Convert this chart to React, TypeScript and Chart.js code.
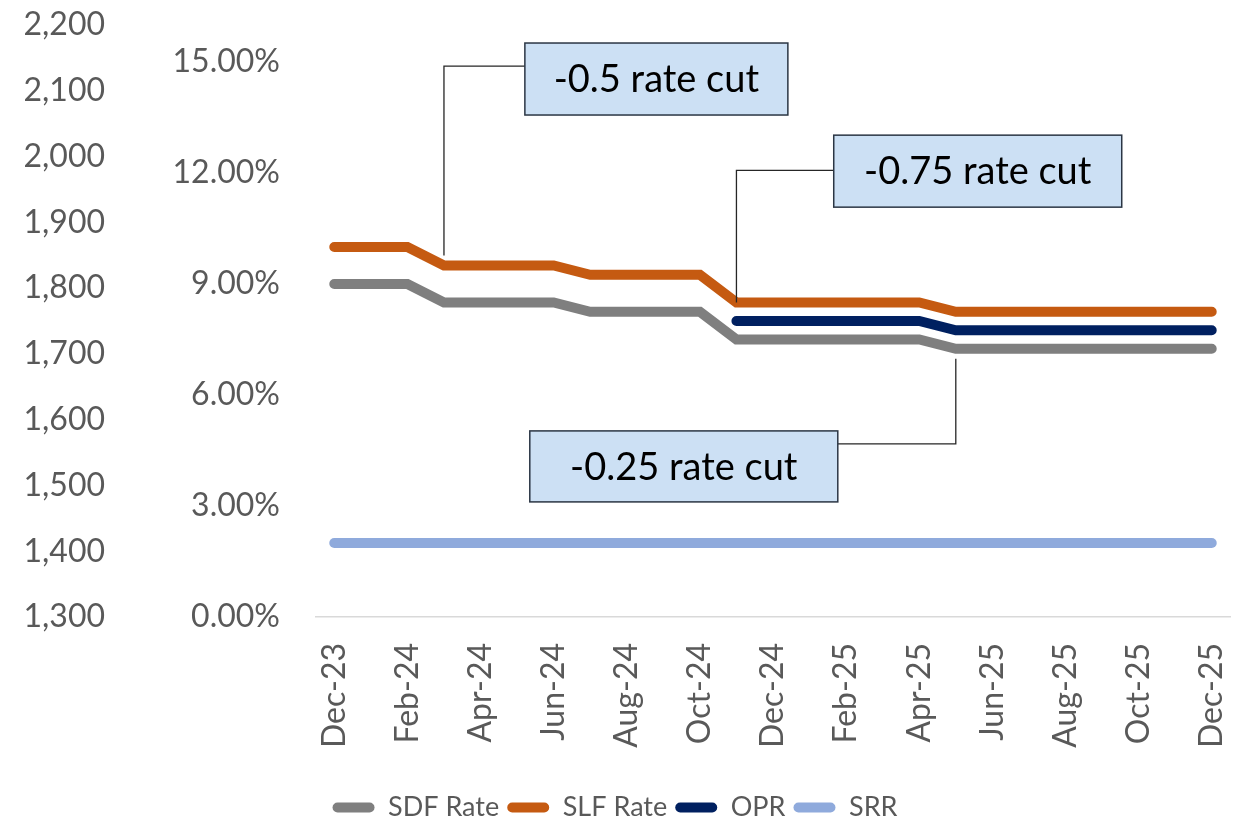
import React, { useEffect, useRef } from 'react';
import { Chart, registerables } from 'chart.js';

Chart.register(...registerables);

// ---------------- data ----------------
const months = [
  'Dec-23', 'Jan-24', 'Feb-24', 'Mar-24', 'Apr-24', 'May-24', 'Jun-24', 'Jul-24', 'Aug-24',
  'Sep-24', 'Oct-24', 'Nov-24', 'Dec-24', 'Jan-25', 'Feb-25', 'Mar-25', 'Apr-25', 'May-25',
  'Jun-25', 'Jul-25', 'Aug-25', 'Sep-25', 'Oct-25', 'Nov-25', 'Dec-25',
];

const sdfRate = [
  9, 9, 9, 8.5, 8.5, 8.5, 8.5, 8.25, 8.25, 8.25, 8.25, 7.5, 7.5, 7.5, 7.5, 7.5, 7.5,
  7.25, 7.25, 7.25, 7.25, 7.25, 7.25, 7.25, 7.25,
];
const slfRate = [
  10, 10, 10, 9.5, 9.5, 9.5, 9.5, 9.25, 9.25, 9.25, 9.25, 8.5, 8.5, 8.5, 8.5, 8.5, 8.5,
  8.25, 8.25, 8.25, 8.25, 8.25, 8.25, 8.25, 8.25,
];
const oprRate = [
  null, null, null, null, null, null, null, null, null, null, null, 8, 8, 8, 8, 8, 8,
  7.75, 7.75, 7.75, 7.75, 7.75, 7.75, 7.75, 7.75,
];
const srrRate = [
  2, 2, 2, 2, 2, 2, 2, 2, 2, 2, 2, 2, 2, 2, 2, 2, 2, 2, 2, 2, 2, 2, 2, 2, 2,
];

const seriesNames = ['SDF Rate', 'SLF Rate', 'OPR', 'SRR'];
const seriesColors = ['#7F7F7F', '#C55A11', '#002060', '#8FAADC'];

const pctTicks = [0, 3, 6, 9, 12, 15];
const outerTicks = [1300, 1400, 1500, 1600, 1700, 1800, 1900, 2000, 2100, 2200];

// annotations: text, series it points at, month index of the anchor,
// box centre (month index, % value), elbow level (% value)
const annTexts = ['-0.5 rate cut', '-0.75 rate cut', '-0.25 rate cut'];
const annSeries = [1, 1, 0];
const annIndex = [3, 11, 17];
const annBoxX = [8.81, 17.6, 9.56];
const annBoxY = [14.54, 12.05, 4.07];
const annElbowY = [14.89, 12.07, 4.68];

// ---------------- styles ----------------
const FONT = 'Lato, "Open Sans", sans-serif';
const TICK_COLOR = '#595959';
const annBoxW = [263, 288, 308];
const annBoxH = [72, 72, 71];
const annEndOffset = [-10, 0, 10];

const seriesData = [sdfRate, slfRate, oprRate, srrRate];

const rateCutPlugin = {
  id: 'rateCuts',
  afterDatasetsDraw(chart: any) {
    const { ctx, scales } = chart;
    const x = scales.x;
    const y = scales.y;
    ctx.save();
    annTexts.forEach((text, i) => {
      const cx = x.getPixelForValue(annBoxX[i]);
      const cy = y.getPixelForValue(annBoxY[i]);
      const w = annBoxW[i];
      const h = annBoxH[i];
      const left = cx - w / 2;
      const top = cy - h / 2;
      const ax = x.getPixelForValue(annIndex[i]);
      const ay = y.getPixelForValue(seriesData[annSeries[i]][annIndex[i]] as number) + annEndOffset[i];
      const ey = y.getPixelForValue(annElbowY[i]);
      const startX = ax < left ? left : left + w;
      // leader
      ctx.beginPath();
      ctx.strokeStyle = '#262626';
      ctx.lineWidth = 1.3;
      ctx.moveTo(startX, ey);
      ctx.lineTo(ax, ey);
      ctx.lineTo(ax, ay);
      ctx.stroke();
      // box
      ctx.fillStyle = '#CCE0F4';
      ctx.fillRect(left, top, w, h);
      ctx.strokeStyle = '#2B3644';
      ctx.lineWidth = 1.5;
      ctx.strokeRect(left, top, w, h);
      // text
      ctx.fillStyle = '#000000';
      ctx.font = `38px ${FONT}`;
      ctx.textAlign = 'center';
      ctx.textBaseline = 'middle';
      ctx.fillText(text, cx, cy + 1);
    });
    ctx.restore();
  },
};

export default function App() {
  const canvasRef = useRef<HTMLCanvasElement | null>(null);

  useEffect(() => {
    document.body.style.margin = '0';
    const canvas = canvasRef.current;
    if (!canvas) return;
    const chart = new Chart(canvas, {
      type: 'line',
      data: {
        labels: months,
        datasets: seriesData.map((d, i) => ({
          label: seriesNames[i],
          data: d,
          borderColor: seriesColors[i],
          backgroundColor: seriesColors[i],
          borderWidth: 10,
          borderCapStyle: 'round',
          borderJoinStyle: 'miter',
          pointRadius: 0,
          pointHoverRadius: 0,
          fill: false,
          tension: 0,
          spanGaps: false,
          yAxisID: 'y',
        })),
      },
      options: {
        responsive: false,
        animation: false,
        events: [],
        layout: { padding: { top: 25, left: 0, right: 4, bottom: -10 } },
        plugins: {
          tooltip: { enabled: false },
          title: { display: false },
          legend: {
            display: true,
            position: 'bottom',
            labels: {
              boxWidth: 42,
              boxHeight: 10,
              useBorderRadius: true,
              borderRadius: 5,
              padding: 8,
              color: TICK_COLOR,
              font: { family: FONT, size: 27 },
              generateLabels: (ch: any) =>
                ch.data.datasets.map((ds: any, i: number) => ({
                  text: ds.label,
                  fillStyle: ds.borderColor,
                  strokeStyle: ds.borderColor,
                  lineWidth: 0,
                  hidden: false,
                  datasetIndex: i,
                  borderRadius: 5,
                  fontColor: TICK_COLOR,
                })),
            },
          },
        },
        scales: {
          x: {
            type: 'category',
            offset: true,
            grid: { display: false, drawTicks: false },
            border: { display: true, color: '#D9D9D9', width: 1.5 },
            ticks: {
              autoSkip: false,
              minRotation: 90,
              maxRotation: 90,
              padding: 26,
              color: TICK_COLOR,
              font: { family: FONT, size: 32 },
              callback: (_v: any, i: number) => (i % 2 === 0 ? months[i] : ''),
            },
            afterFit: (s: any) => {
              s.height = 169;
              s.paddingLeft = 0;
              s.paddingRight = 0;
            },
          },
          y: {
            type: 'linear',
            position: 'left',
            weight: 0,
            min: 0,
            max: 16,
            grid: { display: false, drawTicks: false },
            border: { display: false },
            ticks: {
              stepSize: 3,
              padding: 36,
              color: TICK_COLOR,
              font: { family: FONT, size: 32 },
              callback: (v: any) => Number(v).toFixed(2) + '%',
            },
            afterBuildTicks: (s: any) => {
              s.ticks = pctTicks.map((v) => ({ value: v }));
            },
            afterFit: (s: any) => {
              s.width = 206;
              s.paddingTop = 0;
              s.paddingBottom = 0;
            },
          },
          yOuter: {
            type: 'linear',
            position: 'left',
            weight: 1,
            min: 1300,
            max: 2200,
            grid: { display: false, drawTicks: false },
            border: { display: false },
            ticks: {
              stepSize: 100,
              padding: 5,
              color: TICK_COLOR,
              font: { family: FONT, size: 32 },
              callback: (v: any) => Number(v).toLocaleString('en-US'),
            },
            afterBuildTicks: (s: any) => {
              s.ticks = outerTicks.map((v) => ({ value: v }));
            },
            afterFit: (s: any) => {
              s.width = 110;
              s.paddingTop = 0;
              s.paddingBottom = 0;
            },
          },
        },
      } as any,
      plugins: [rateCutPlugin],
    });
    return () => chart.destroy();
  }, []);

  return (
    <div style={{ position: 'fixed', left: 0, top: 0, width: 1234, height: 821, background: '#fff' }}>
      <canvas ref={canvasRef} width={1234} height={821} />
    </div>
  );
}
